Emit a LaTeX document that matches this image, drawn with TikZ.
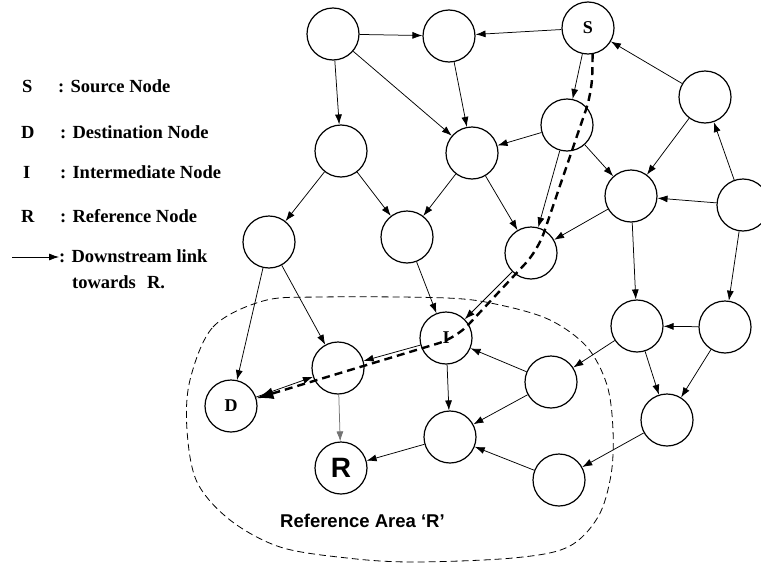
\documentclass[tikz,border=0pt]{standalone}
\usepackage{fontspec}
\setmainfont{Liberation Serif}
\setsansfont{Liberation Sans}
\usetikzlibrary{arrows.meta}
\begin{document}
\begin{tikzpicture}[x=1pt,y=-1pt,
  nd/.style={circle,draw,line width=1.2pt,minimum size=52pt,inner sep=0pt,
    font=\bfseries\fontsize{18}{18}\selectfont},
  ed/.style={line width=0.75pt,-{Latex[length=10pt,width=7pt]}},
  grayed/.style={ed,draw=black!55},
  pathdash/.style={line width=2.4pt,dash pattern=on 8pt off 5pt,rounded corners=18pt,
    -{Latex[length=17pt,width=12pt]}},
  areadash/.style={line width=0.8pt,dash pattern=on 7pt off 4pt},
  legend/.style={anchor=base west,inner sep=0pt,font=\bfseries\fontsize{18.5}{20}\selectfont},
  areatext/.style={anchor=base west,inner sep=0pt,font=\sffamily\bfseries\fontsize{18.5}{20}\selectfont}
]
\useasboundingbox (0,0) rectangle (761,565);

% reference area
\draw[areadash] plot[smooth cycle,tension=0.55] coordinates {
  (190,380) (213,327) (263,301) (320,297) (447,298) (500,305) (550,320)
  (587,347) (607,385) (613,430) (611,475) (598,517) (568,547) (513,558)
  (413,562) (347,558) (280,547) (230,520) (197,482) (187,430)};

% nodes
\node[nd] (A) at (333,34) {};
\node[nd] (B) at (449,36) {};
\node[nd] (S) at (588,28) {S};
\node[nd] (TR) at (705,97) {};
\node[nd] (N2) at (567,125) {};
\node[nd] (N3) at (472,153) {};
\node[nd] (N4) at (341,151) {};
\node[nd] (N5) at (631,196) {};
\node[nd] (N6) at (743,205) {};
\node[nd] (N7) at (531,253) {};
\node[nd] (N8) at (269,242) {};
\node[nd] (N9) at (407,237) {};
\node[nd] (I) at (446,338) {I};
\node[nd] (N10) at (338,368) {};
\node[nd] (D) at (231,406) {D};
\node[nd,font=\sffamily\bfseries\fontsize{28}{28}\selectfont] (R) at (341,468) {R};
\node[nd] (N11) at (450,437) {};
\node[nd] (N12) at (551,382) {};
\node[nd] (N13) at (559,480) {};
\node[nd] (N14) at (637,326) {};
\node[nd] (N15) at (725,327) {};
\node[nd] (N16) at (667,420) {};

% edges
\draw[ed] (A) -- (B);
\draw[ed] (S) -- (B);
\draw[ed] (A) -- (N4);
\draw[ed] (A) -- (N3);
\draw[ed] (B) -- (N3);
\draw[ed] (S) -- (N2);
\draw[ed] (N2) -- (N3);
\draw[ed] (TR) -- (S);
\draw[ed] (TR) -- (N5);
\draw[ed] (N6) -- (TR);
\draw[ed] (N6) -- (N5);
\draw[ed] (N2) -- (N5);
\draw[ed] (N2) -- (N7);
\draw[ed] (N5) -- (N7);
\draw[ed] (N3) -- (N7);
\draw[ed] (N3) -- (N9);
\draw[ed] (N4) -- (N8);
\draw[ed] (N4) -- (N9);
\draw[ed] (N8) -- (D);
\draw[ed] (N8) -- (N10);
\draw[ed] (N9) -- (I);
\draw[ed] (N7) -- (I);
\draw[ed] (I) -- (N10);
\draw[ed] (D) -- (N10);
\draw[grayed] (N10) -- (R);
\draw[ed] (I) -- (N11);
\draw[ed] (N11) -- (R);
\draw[ed] (N12) -- (I);
\draw[ed] (N12) -- (N11);
\draw[ed] (N13) -- (N11);
\draw[ed] (N16) -- (N13);
\draw[ed] (N14) -- (N12);
\draw[ed] (N15) -- (N14);
\draw[ed] (N5) -- (N14);
\draw[ed] (N6) -- (N15);
\draw[ed] (N14) -- (N16);
\draw[ed] (N15) -- (N16);

% downstream path from S to D
\coordinate (p1) at (592,92);
\coordinate (p2) at (538,250);
\coordinate (p3) at (456,338);
\draw[pathdash] (S.-80) -- (p1) -- (p2) -- (p3) -- (D);

% legend
\node[legend] (ls) at (22,92) {S};
\node[legend] (lsT) at (58,92) {: Source Node};
\node[legend] (ld) at (21,138) {D};
\node[legend] (ldT) at (60,138) {: Destination Node};
\node[legend] (li) at (23,178) {I};
\node[legend] (liT) at (60,178) {: Intermediate Node};
\node[legend] (lr) at (21,222) {R};
\node[legend] (lrT) at (60,222) {: Reference Node};
\coordinate (la1) at (12,257);
\node[legend] (laT) at (59,262) {: Downstream link};
\draw[ed] (la1) -- (laT.base west |- la1);
\node[legend] (laT2) at (72,288) {towards\hspace{0.6em}R.};

\node[areatext] (area) at (280,527) {Reference Area ‘R’};
\end{tikzpicture}
\end{document}
